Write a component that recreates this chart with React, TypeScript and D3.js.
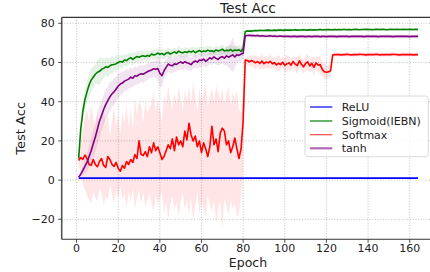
import React from "react";
import * as d3 from "d3";

// test accuracy per epoch (epoch 1..164)
const reluAcc = [
  1, 1, 1, 1, 1, 1, 1, 1, 1, 1, 1, 1, 1, 1, 1, 1, 1, 1, 1, 1,
  1, 1, 1, 1, 1, 1, 1, 1, 1, 1, 1, 1, 1, 1, 1, 1, 1, 1, 1, 1,
  1, 1, 1, 1, 1, 1, 1, 1, 1, 1, 1, 1, 1, 1, 1, 1, 1, 1, 1, 1,
  1, 1, 1, 1, 1, 1, 1, 1, 1, 1, 1, 1, 1, 1, 1, 1, 1, 1, 1, 1,
  1, 1, 1, 1, 1, 1, 1, 1, 1, 1, 1, 1, 1, 1, 1, 1, 1, 1, 1, 1,
  1, 1, 1, 1, 1, 1, 1, 1, 1, 1, 1, 1, 1, 1, 1, 1, 1, 1, 1, 1,
  1, 1, 1, 1, 1, 1, 1, 1, 1, 1, 1, 1, 1, 1, 1, 1, 1, 1, 1, 1,
  1, 1, 1, 1, 1, 1, 1, 1, 1, 1, 1, 1, 1, 1, 1, 1, 1, 1, 1, 1,
  1, 1, 1, 1
];

const sigmoidAcc = [
  11, 26, 35, 41, 45, 48.5, 51, 52.5, 54, 55, 55.5, 56.5, 57, 57.8, 57.5, 58.3, 58.8, 59, 59.4, 60,
  60.5, 60.2, 61.3, 61, 61.8, 62.5, 61.6, 62.4, 63, 62.7, 63.2, 63.4, 63.1, 63.6, 63.2, 64.3, 63.8, 64.1, 64.8, 64.2,
  64.6, 63.9, 64.8, 65.1, 64.3, 64.9, 65.4, 64.7, 65.8, 65.2, 64.9, 65.5, 65.1, 65.7, 65.3, 65.9, 65.0, 65.6, 66.1, 65.4,
  65.9, 65.6, 66.3, 65.8, 66.0, 65.5, 66.4, 65.9, 66.2, 66.8, 65.9, 66.3, 66.0, 66.6, 65.8, 66.4, 66.1, 66.5, 65.6, 67.3,
  75.8, 76.0, 76.1, 76.0, 76.2, 76.3, 76.2, 76.4, 76.3, 76.3, 76.4, 76.5, 76.4, 76.3, 76.5, 76.4, 76.5, 76.6, 76.4, 76.5,
  76.6, 76.5, 76.5, 76.6, 76.7, 76.5, 76.6, 76.6, 76.7, 76.6, 76.5, 76.7, 76.6, 76.7, 76.6, 76.7, 76.8, 76.6, 76.7, 76.7,
  76.8, 76.7, 76.7, 76.8, 76.7, 76.8, 76.7, 76.8, 76.8, 76.7, 76.8, 76.7, 76.8, 76.9, 76.8, 76.7, 76.8, 76.8, 76.9, 76.8,
  76.8, 76.7, 76.8, 76.9, 76.8, 76.8, 76.9, 76.8, 76.7, 76.8, 76.9, 76.8, 76.8, 76.9, 76.8, 76.8, 76.9, 76.8, 76.8, 76.9,
  76.8, 76.8, 76.9, 76.8
];

const softmaxAcc = [
  10, 11.5, 10.5, 12.8, 11, 8, 7.5, 10.5, 8, 6.8, 9.5, 11, 7.5, 6.5, 12, 10.5, 8, 7, 9, 6,
  4.5, 7.5, 6, 9.5, 8, 10.5, 9, 13, 11, 20, 13, 12.5, 14.5, 12, 17, 14, 19, 15, 17, 14,
  10.5, 12, 15, 18, 16, 21, 15, 22, 18, 20, 17, 25, 20.5, 29, 23, 20, 22.5, 17, 20, 14,
  19, 16, 12, 17, 27.5, 18, 21, 14.5, 24, 26.5, 25, 18, 20, 14, 17, 21.5, 16, 11, 16, 30,
  61.2, 61, 60.4, 61, 60.5, 59.8, 60.5, 59.5, 60.7, 59.4, 60.2, 59.8, 60.6, 59.3, 59.9, 58.8, 59.6, 58.9, 60.1, 58.5,
  59.3, 59.8, 58.6, 60.5, 59.2, 58.4, 60.9, 59.1, 57.8, 59.5, 60.3, 58.2, 59.6, 57.5, 59.8, 58.7, 58.9, 56.5, 55.3, 55.0,
  55.2, 55.8, 63.8, 64.0, 64.1, 64.0, 63.9, 64.1, 64.0, 64.2, 64.0, 63.9, 64.1, 64.0, 64.0, 64.2, 64.1, 64.0, 63.9, 64.1,
  64.0, 64.1, 64.0, 64.2, 64.0, 63.9, 64.1, 64.0, 64.1, 64.0, 64.0, 64.2, 64.1, 64.0, 63.9, 64.0, 64.1, 64.0, 64.0, 64.1,
  64.0, 63.9, 64.0, 64.0
];

const tanhAcc = [
  1.5, 3, 5, 7, 9, 12, 15, 18.5, 22, 26, 30, 33, 36, 38.5, 40.5, 42.5, 44, 45, 46.5, 48,
  49, 49.5, 50.5, 51, 51.5, 52.5, 52, 53.2, 53, 53.8, 54.3, 54, 54.7, 55.3, 55.8, 56.2, 56.8, 56.5, 56.9, 54.5,
  53.3, 55.8, 57.5, 59.2, 58.6, 58.3, 59.3, 59.0, 59.8, 60.3, 59.6, 60.4, 59.9, 59.5, 58.9, 60.1, 60.8, 60.2, 61.3, 61.0,
  61.7, 60.6, 61.4, 62.4, 61.8, 62.9, 62.1, 61.5, 62.6, 63.0, 62.2, 63.4, 62.7, 63.3, 63.9, 62.8, 64.0, 63.6, 64.3, 64.6,
  73.6, 73.8, 73.9, 73.7, 73.8, 73.6, 73.7, 73.5, 73.6, 73.5, 73.4, 73.5, 73.6, 73.4, 73.5, 73.3, 73.4, 73.5, 73.3, 73.4,
  73.3, 73.4, 73.2, 73.4, 73.3, 73.2, 73.3, 73.4, 73.3, 73.2, 73.3, 73.3, 73.2, 73.3, 73.4, 73.3, 73.2, 73.3, 73.3, 73.2,
  73.3, 73.4, 73.3, 73.3, 73.2, 73.3, 73.3, 73.4, 73.3, 73.3, 73.2, 73.3, 73.3, 73.4, 73.3, 73.3, 73.3, 73.2, 73.3, 73.3,
  73.3, 73.4, 73.3, 73.3, 73.2, 73.3, 73.3, 73.3, 73.4, 73.3, 73.3, 73.2, 73.3, 73.3, 73.3, 73.4, 73.3, 73.3, 73.3, 73.2,
  73.3, 73.3, 73.3, 73.3
];

// spread (half width) of the shaded bands
const sigmoidStd = [
  1.5, 3, 4, 5, 5.5, 6, 6, 5.5, 5, 6, 7, 6, 5, 4.5, 5, 4, 4.5, 3.5, 4, 3.5,
  3, 3.5, 2.8, 3.2, 3, 2.5, 3.3, 2.8, 2.5, 3, 2.6, 2.9, 2.4, 2.8, 2.5, 2.2, 2.7, 2.4, 2.2, 2.6,
  2.3, 2.6, 2.1, 2.4, 2.5, 2.2, 2.4, 2.1, 2.3, 2.5, 2.2, 2.4, 2.1, 2, 2.3, 2.2, 2.5, 2.1, 2.3, 2.2,
  2, 2.3, 2.1, 2.4, 2.2, 2, 2.3, 2.1, 2.2, 2.5, 2, 2.2, 2.4, 2.1, 2.3, 2, 2.2, 2.4, 2.6, 2.5,
  0.9, 0.8, 0.8, 0.9, 0.7, 0.8, 0.9, 0.8, 0.7, 0.8, 0.8, 0.9, 0.7, 0.8, 0.8, 0.7, 0.9, 0.8, 0.8, 0.7,
  0.8, 0.9, 0.7, 0.8, 0.8, 0.7, 0.8, 0.9, 0.8, 0.7, 0.8, 0.8, 0.9, 0.7, 0.8, 0.8, 0.7, 0.8, 0.9, 0.8,
  0.7, 0.8, 0.8, 0.9, 0.7, 0.8, 0.8, 0.7, 0.8, 0.9, 0.8, 0.7, 0.8, 0.8, 0.9, 0.7, 0.8, 0.8, 0.7, 0.8,
  0.9, 0.8, 0.7, 0.8, 0.8, 0.9, 0.7, 0.8, 0.8, 0.7, 0.8, 0.9, 0.8, 0.7, 0.8, 0.8, 0.9, 0.7, 0.8, 0.8,
  0.7, 0.8, 0.9, 0.8
];

const tanhStd = [
  0.5, 1.5, 2.5, 3.5, 4.5, 5.5, 6.5, 7, 7.5, 8, 8.5, 8, 7.5, 8, 7, 7.5, 6.5, 7, 6, 6.5,
  5.5, 6, 5, 5.5, 4.8, 5.2, 4.5, 5, 4.4, 4.8, 4.2, 4.6, 4, 4.5, 3.8, 4.3, 3.9, 4.2, 6.5, 7,
  5.5, 4.5, 4, 3.8, 4.2, 3.6, 4, 3.5, 3.9, 3.4, 3.7, 3.3, 3.8, 3.4, 3.6, 3.2, 3.5, 3.1, 3.6, 3.3,
  3.4, 3.1, 3.5, 3.2, 3.4, 3, 3.3, 3.1, 3.6, 3.2, 3.8, 4.5, 5.5, 7, 9, 6, 4, 3.5, 3.2, 3,
  1.1, 1, 0.9, 1, 1.1, 1, 0.9, 1, 1, 1.1, 0.9, 1, 1, 0.9, 1.1, 1, 1, 0.9, 1, 1.1,
  1, 0.9, 1, 1, 1.1, 0.9, 1, 1, 0.9, 1.1, 1, 1, 0.9, 1, 1.1, 1, 0.9, 1, 1, 1.1,
  0.9, 1, 1, 0.9, 1.1, 1, 1, 0.9, 1, 1.1, 1, 0.9, 1, 1, 1.1, 0.9, 1, 1, 0.9, 1.1,
  1, 1, 0.9, 1, 1.1, 1, 0.9, 1, 1, 1.1, 0.9, 1, 1, 0.9, 1.1, 1, 1, 0.9, 1, 1.1,
  1, 0.9, 1, 1
];

// softmax band bounds
const softmaxHi = [
  13, 20, 26, 33, 36, 30, 38, 32, 27, 35, 25, 31, 36, 28, 34, 22, 30, 37, 27, 33,
  24, 35, 29, 38, 27, 36, 26, 42, 33, 40, 38, 29, 41, 34, 37, 39, 46, 35, 42, 36,
  30, 44, 38, 48, 41, 36, 45, 39, 47, 42, 35, 46, 40, 48, 39, 50, 43, 35, 47, 40,
  44, 49, 37, 43, 47, 40, 48, 45, 41, 47, 39, 44, 48, 38, 45, 41, 46, 36, 34, 45,
  62.5, 63, 63, 64, 63.5, 63.5, 63, 63, 64.5, 62.5, 63.5, 62.5, 64.5, 62.5, 62.5, 62.5, 64, 62, 63, 62,
  64, 63, 61.5, 64, 62.5, 63, 64, 62, 61.5, 63, 64.5, 61, 63, 62.5, 63, 62.5, 63.5, 60, 59.5, 58.5,
  58.5, 58.5, 65, 65, 65, 65.1, 65, 65, 65, 65.3, 64.9, 64.9, 65.1, 65.1, 64.9, 65.2, 65.1, 64.9, 65, 65.1,
  65, 65, 65.1, 65.2, 65, 64.8, 65.1, 65.1, 65.1, 64.9, 65, 65.2, 65.2, 64.9, 64.9, 65, 65.1, 64.9, 65.1, 65.1,
  65, 64.8, 65, 65
];

const softmaxLo = [
  7, 4, -2, -5, -8, -10, -12, -6, -9, -11, -4, -7, -13, -8, -10, -2, -7, -12, -5, -9,
  -3, -10, -7, -14, -6, -11, -4, -15, -9, -5, -12, -6, -14, -10, -7, -12, -16, -8, -13, -9,
  -6, -17, -10, -20, -13, -8, -16, -11, -19, -12, -7, -15, -10, -18, -9, -21, -13, -6, -17, -11,
  -14, -19, -8, -13, -16, -10, -22, -15, -11, -25, -9, -14, -18, -10, -15, -12, -19, -17, -8, 5,
  59.5, 59, 58, 58, 57.5, 56.5, 58, 56.5, 56.5, 56.5, 57, 57, 57, 56, 57.5, 55.5, 55.5, 56, 57.5, 55,
  55, 56.5, 55.5, 57, 56, 54, 57.5, 56.5, 54, 56, 56, 55, 56, 53, 56.5, 55, 54.5, 53, 51.5, 51.5,
  52, 53, 62.6, 63, 63.1, 62.9, 62.9, 63.2, 63, 63.1, 63.1, 62.9, 63.1, 62.9, 63.1, 63.2, 63.1, 63.1, 62.8, 63.1,
  63, 63.2, 62.9, 63.2, 63, 63, 63.1, 62.9, 63.1, 63.1, 63, 63.2, 63, 63.1, 62.9, 63, 63.1, 63.1, 62.9, 63.1,
  63, 63, 63, 63
];

const xTicks = [0, 20, 40, 60, 80, 100, 120, 140, 160];
const yTicks = [-20, 0, 20, 40, 60, 80];

const series = [
  { name: "ReLU", values: reluAcc, color: "#0000ff", legend: "#0000ff", lw: 1.2 },
  { name: "Sigmoid(IEBN)", values: sigmoidAcc, color: "#008000", legend: "#008000", lw: 1.2 },
  { name: "Softmax", values: softmaxAcc, color: "#ff0000", legend: "#ff4a4a", lw: 1.2 },
  { name: "tanh", values: tanhAcc, color: "#800080", legend: "#b566b5", lw: 2.2 },
];

const W = 430;
const H = 272;
const font = "DejaVu Sans, sans-serif";

export default function App() {
  const x = d3.scaleLinear().domain([-7.15, 172.15]).range([61.7, 435]);
  const y = d3.scaleLinear().domain([-30.2, 83.05]).range([239.3, 17.3]);

  const line = d3
    .line<number>()
    .x((d, i) => x(i + 1))
    .y((d) => y(d));

  const band = (lo: number[], hi: number[]) =>
    d3
      .area<number>()
      .x((d, i) => x(i + 1))
      .y0((d, i) => y(lo[i]))
      .y1((d, i) => y(hi[i]))(lo);

  const withStd = (m: number[], s: number[], sign: number) =>
    m.map((v, i) => v + sign * s[i]);

  const bands = [
    { d: band(withStd(sigmoidAcc, sigmoidStd, -1), withStd(sigmoidAcc, sigmoidStd, 1)), color: "#008000" },
    { d: band(softmaxLo, softmaxHi), color: "#ff0000" },
    { d: band(withStd(tanhAcc, tanhStd, -1), withStd(tanhAcc, tanhStd, 1)), color: "#800080" },
  ];

  const [x0, x1] = x.range();
  const [yb, yt] = y.range();
  const legendY = [107, 121, 134.7, 148.3];

  return (
    <svg
      width={W}
      height={H}
      style={{ position: "fixed", left: 0, top: 0, background: "#fff" }}
      fontFamily={font}
    >
      <rect width={W} height={H} fill="#fff" />
      <defs>
        <clipPath id="plot">
          <rect x={x0} y={yt} width={x1 - x0} height={yb - yt} />
        </clipPath>
      </defs>

      {/* grid */}
      <g stroke="#b0b0b0" strokeWidth={0.8} strokeDasharray="1,1.7">
        {xTicks.map((t) => (
          <line key={"gx" + t} x1={x(t)} x2={x(t)} y1={yt} y2={yb} />
        ))}
        {yTicks.map((t) => (
          <line key={"gy" + t} x1={x0} x2={x1} y1={y(t)} y2={y(t)} />
        ))}
      </g>

      <g clipPath="url(#plot)">
        {bands.map((b, i) => (
          <path key={"b" + i} d={b.d || ""} fill={b.color} fillOpacity={0.1} stroke="none" />
        ))}
        {series.map((s) => (
          <path
            key={s.name}
            d={line(s.values) || ""}
            fill="none"
            stroke={s.color}
            strokeWidth={1.6}
            strokeLinejoin="round"
          />
        ))}
      </g>

      {/* spines */}
      <line x1={x0} x2={x1} y1={yt} y2={yt} stroke="#000" strokeWidth={1} />
      <line x1={x0} x2={x1} y1={yb} y2={yb} stroke="#333" strokeWidth={1.1} />
      <line x1={x0} x2={x0} y1={yt} y2={yb} stroke="#555" strokeWidth={1.6} />

      {/* x axis */}
      {xTicks.map((t) => (
        <g key={"xt" + t}>
          <line x1={x(t)} x2={x(t)} y1={yb} y2={yb + 3.5} stroke="#222" strokeWidth={0.8} />
          <text x={x(t)} y={yb + 12.6} textAnchor="middle" fontSize={11} fill="#222">
            {t}
          </text>
        </g>
      ))}
      {/* y axis */}
      {yTicks.map((t) => (
        <g key={"yt" + t}>
          <line x1={x0 - 3.5} x2={x0} y1={y(t)} y2={y(t)} stroke="#222" strokeWidth={0.8} />
          <text x={x0 - 7} y={y(t)} dy="0.36em" textAnchor="end" fontSize={11} fill="#222">
            {t < 0 ? "\u2212" + Math.abs(t) : t}
          </text>
        </g>
      ))}

      <text x={248} y={13.3} textAnchor="middle" fontSize={13.8} fill="#222">
        Test Acc
      </text>
      <text x={248} y={266.5} textAnchor="middle" fontSize={12.5} fill="#222">
        Epoch
      </text>
      <text
        transform={`translate(25,${(yt + yb) / 2}) rotate(-90)`}
        textAnchor="middle"
        fontSize={13}
        fill="#222"
      >
        Test Acc
      </text>

      {/* legend */}
      <rect
        x={305}
        y={96}
        width={123.3}
        height={60.7}
        rx={3}
        fill="#fff"
        fillOpacity={0.8}
        stroke="#d0d0d0"
        strokeWidth={0.8}
      />
      {series.map((s, i) => (
        <g key={"lg" + s.name}>
          <line x1={310} x2={332.3} y1={legendY[i]} y2={legendY[i]} stroke={s.legend} strokeWidth={s.lw} />
          <text x={341.7} y={legendY[i]} dy="0.36em" fontSize={11} fill="#222">
            {s.name}
          </text>
        </g>
      ))}
    </svg>
  );
}
